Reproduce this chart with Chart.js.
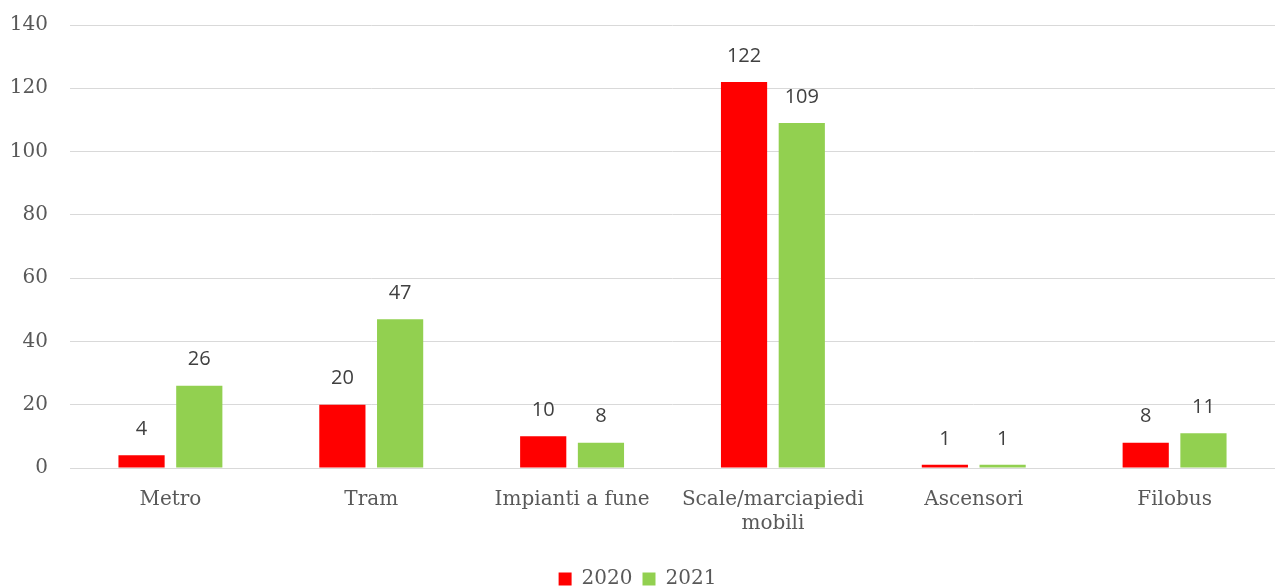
<!DOCTYPE html>
<html>
<head>
<meta charset="utf-8">
<script src="https://cdn.jsdelivr.net/npm/chart.js@4"></script>
<style>
  html, body { margin: 0; padding: 0; background: #fff; }
  #wrap { width: 1275px; height: 588px; }
</style>
</head>
<body>
<div id="wrap"><canvas id="chart" width="1275" height="588"></canvas></div>
<script>
const categories = ['Metro', 'Tram', 'Impianti a fune', ['Scale/marciapiedi', 'mobili'], 'Ascensori', 'Filobus'];
const values2020 = [4, 20, 10, 122, 1, 8];
const values2021 = [26, 47, 8, 109, 1, 11];
const yTicks = [0, 20, 40, 60, 80, 100, 120, 140];

const serif = "'DejaVu Serif', serif";
const sans = "'Open Sans', 'Liberation Sans', sans-serif";

// draws the value above each bar
const valueLabels = {
    id: 'valueLabels',
    afterDatasetsDraw(chart) {
        const ctx = chart.ctx;
        ctx.save();
        ctx.font = '20px ' + sans;
        ctx.fillStyle = '#404040';
        ctx.textAlign = 'center';
        ctx.textBaseline = 'middle';
        chart.data.datasets.forEach((ds, i) => {
            chart.getDatasetMeta(i).data.forEach((bar, j) => {
                ctx.fillText(String(ds.data[j]), bar.x, bar.y - 26);
            });
        });
        ctx.restore();
    }
};

new Chart(document.getElementById('chart'), {
    type: 'bar',
    data: {
        labels: categories,
        datasets: [
            { label: '2020', data: values2020, backgroundColor: '#ff0000' },
            { label: '2021', data: values2021, backgroundColor: '#92d050' }
        ]
    },
    options: {
        responsive: false,
        animation: false,
        layout: { padding: { top: 25, right: 0, left: 0, bottom: -11 } },
        datasets: {
            bar: { categoryPercentage: 0.575, barPercentage: 0.8 }
        },
        scales: {
            x: {
                afterFit: axis => { axis.height = 91; axis.paddingLeft = 0; axis.paddingRight = 0; },
                grid: { display: false },
                border: { color: '#d9d9d9', width: 1 },
                ticks: { color: '#595959', font: { family: serif, size: 20 }, padding: 12, maxRotation: 0, autoSkip: false }
            },
            y: {
                min: 0,
                max: 140,
                afterBuildTicks: axis => { axis.ticks = yTicks.map(v => ({ value: v })); },
                afterFit: axis => { axis.width = 70; axis.paddingTop = 0; axis.paddingBottom = 0; },
                grid: { color: '#d9d9d9', drawTicks: false },
                border: { display: false },
                ticks: { color: '#595959', font: { family: serif, size: 20 }, padding: 22 }
            }
        },
        plugins: {
            legend: {
                position: 'bottom',
                labels: {
                    color: '#595959',
                    font: { family: serif, size: 20 },
                    boxWidth: 13,
                    boxHeight: 13,
                    padding: 10
                }
            },
            tooltip: { enabled: false }
        }
    },
    plugins: [valueLabels]
});
</script>
</body>
</html>
